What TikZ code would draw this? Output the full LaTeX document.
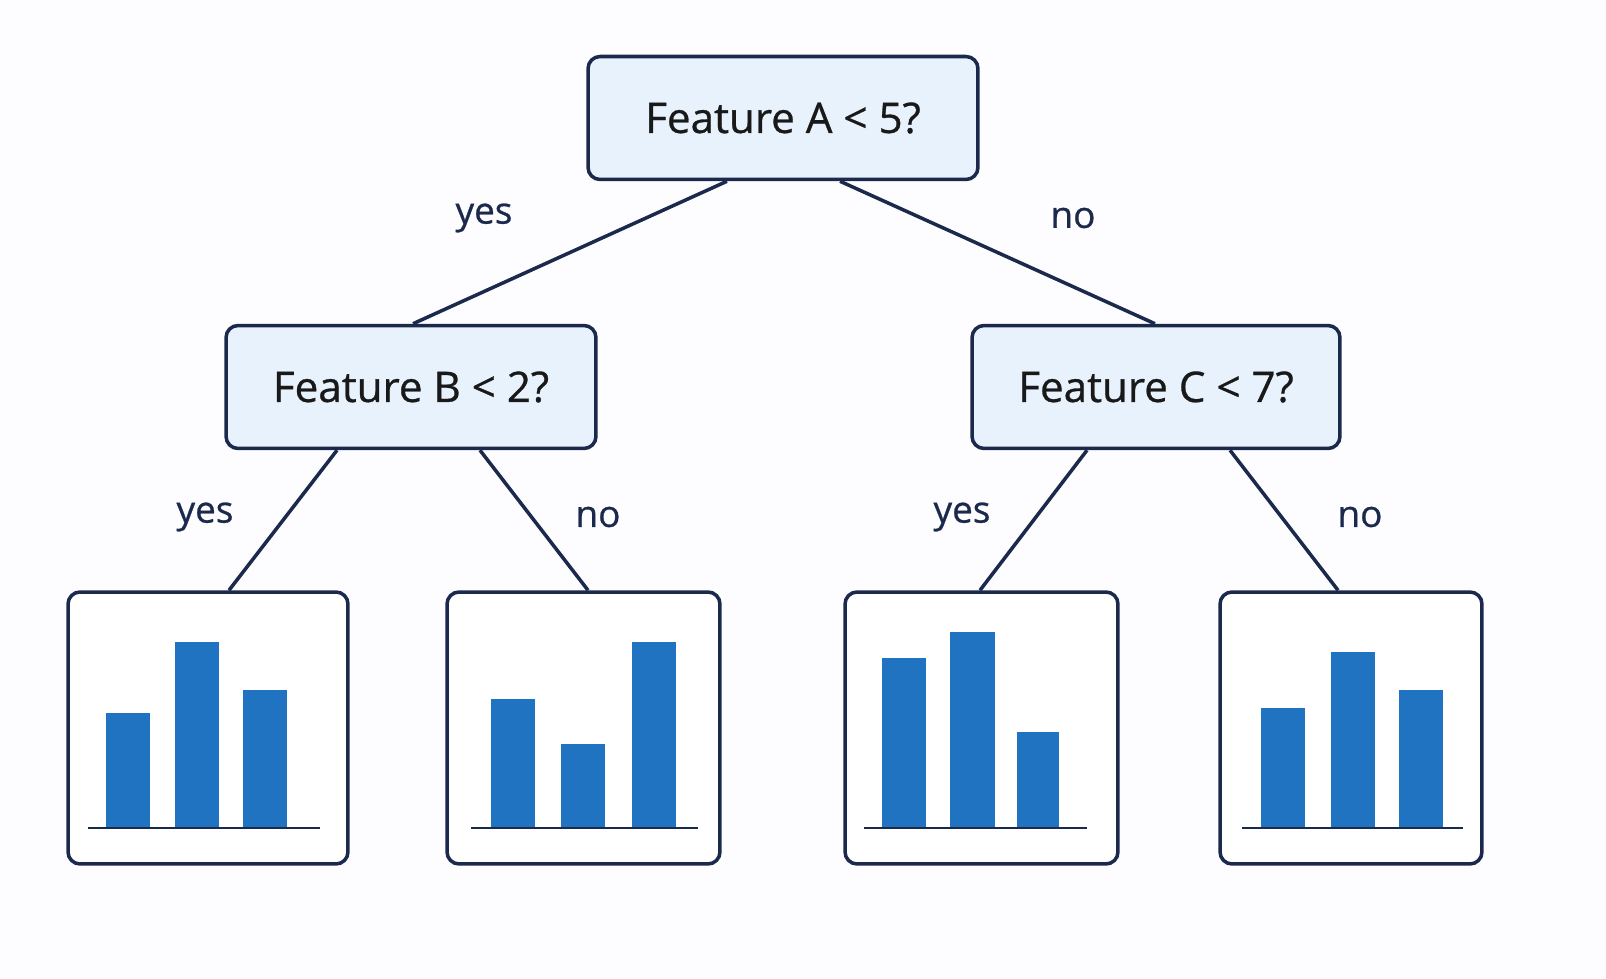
\documentclass[tikz,border=0pt]{standalone}
\usepackage{fontspec}
\setmainfont{Open Sans}
\newfontfamily\medfont{Open Sans}[UprightFeatures={FakeBold=0.7}]
\usetikzlibrary{positioning,calc}
\definecolor{navy}{HTML}{1B2A4C}
\definecolor{boxfill}{HTML}{E8F2FC}
\definecolor{barblue}{HTML}{1F73C1}
\tikzstyle{test}=[draw=navy,fill=boxfill,line width=2pt,rounded corners=0.24cm,font=\fontsize{24}{28}\medfont,text=black!90]
\tikzstyle{leaf}=[draw=navy,fill=white,line width=2pt,rounded corners=0.24cm,inner sep=0pt]
\tikzstyle{branch}=[draw=navy,line width=2pt]
\tikzstyle{lbl}=[font=\fontsize{21}{25}\medfont,text=navy]
\tikzstyle{bar}=[fill=barblue]
\tikzstyle{axis}=[draw=navy,line width=1.6pt]

\begin{document}
\begin{tikzpicture}[x=0.02cm,y=-0.02cm]
\fill[white!97!blue!30] (0,0) rectangle (1606,979);
\useasboundingbox (0,0) rectangle (1606,979);
% decision nodes
\node [test,minimum width=7.8cm,minimum height=2.46cm] (A) at (783,118) {Feature A < 5?};
\node [test,minimum width=7.4cm,minimum height=2.46cm] (B) at (411,387) {Feature B < 2?};
\node [test,minimum width=7.36cm,minimum height=2.46cm] (C) at (1156,387) {Feature C < 7?};
% leaves
\node [leaf,minimum width=5.6cm,minimum height=5.44cm] (L1) at (208,728) {};
\node [leaf,minimum width=5.46cm,minimum height=5.44cm] (L2) at (583.5,728) {};
\node [leaf,minimum width=5.46cm,minimum height=5.44cm] (L3) at (981.5,728) {};
\node [leaf,minimum width=5.24cm,minimum height=5.44cm] (L4) at (1351,728) {};

% branches
\draw[branch] ($(A.south)+(-56,0)$) -- ($(B.north)+(2,0)$);
\draw[branch] ($(A.south)+(57,0)$) -- ($(C.north)+(-1,0)$);
\draw[branch] ($(B.south)+(-74,0)$) -- ($(L1.north)+(21,0)$);
\draw[branch] ($(B.south)+(69,0)$) -- ($(L2.north)+(4.5,0)$);
\draw[branch] ($(C.south)+(-69,0)$) -- ($(L3.north)+(-1.5,0)$);
\draw[branch] ($(C.south)+(74,0)$) -- ($(L4.north)+(-13,0)$);

\node [lbl] (y1) at (484,218) {yes};
\node [lbl] (n1) at (1073,218) {no};
\node [lbl] (y2) at (205,517) {yes};
\node [lbl] (n2) at (598,517) {no};
\node [lbl] (y3) at (962,517) {yes};
\node [lbl] (n3) at (1360,517) {no};

% histograms
\fill[bar] (106,713) rectangle (150,828);
\fill[bar] (175,642) rectangle (219,828);
\fill[bar] (243,690) rectangle (287,828);
\draw[axis] (88,828) -- (320,828);
\fill[bar] (491,699) rectangle (535,828);
\fill[bar] (561,744) rectangle (605,828);
\fill[bar] (632,642) rectangle (676,828);
\draw[axis] (471,828) -- (698,828);
\fill[bar] (882,658) rectangle (926,828);
\fill[bar] (950,632) rectangle (995,828);
\fill[bar] (1017,732) rectangle (1059,828);
\draw[axis] (864,828) -- (1087,828);
\fill[bar] (1261,708) rectangle (1305,828);
\fill[bar] (1331,652) rectangle (1375,828);
\fill[bar] (1399,690) rectangle (1443,828);
\draw[axis] (1242,828) -- (1463,828);
\end{tikzpicture}
\end{document}
